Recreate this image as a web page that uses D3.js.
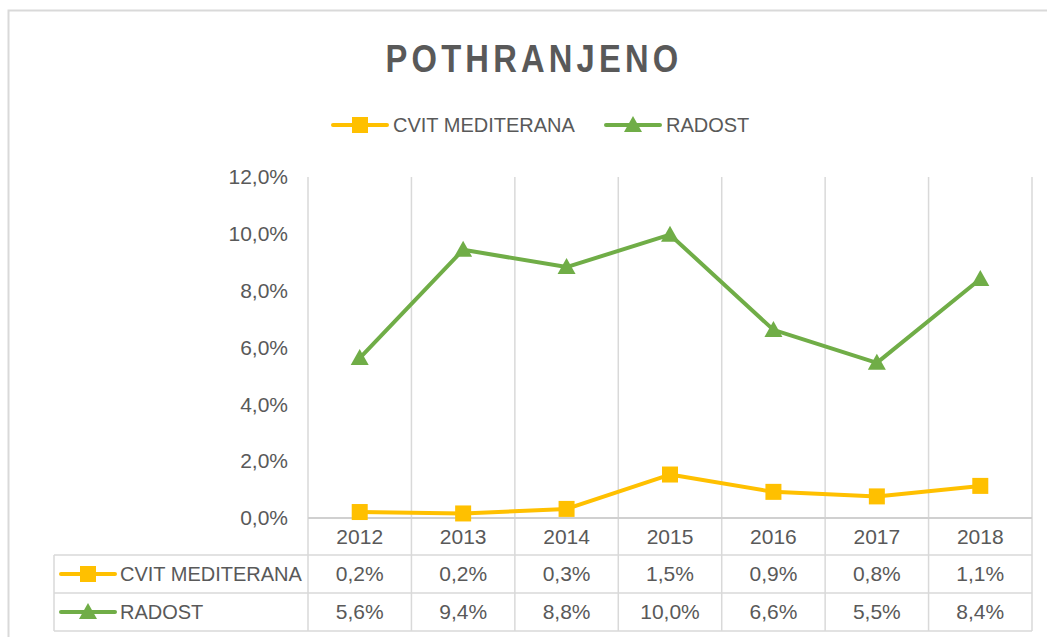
<!DOCTYPE html>
<html>
<head>
<meta charset="utf-8">
<script src="https://cdn.jsdelivr.net/npm/d3@7"></script>
<style>
  html, body { margin: 0; padding: 0; background: #fff; }
  svg { display: block; }
</style>
</head>
<body>
<div id="chart"></div>
<script>
// data
const years = ["2012", "2013", "2014", "2015", "2016", "2017", "2018"];
const cvitMediterana = [0.21, 0.16, 0.32, 1.53, 0.92, 0.76, 1.13];
const radost = [5.63, 9.44, 8.83, 9.97, 6.62, 5.46, 8.41];
const yTicks = [0, 2, 4, 6, 8, 10, 12];
const chartTitle = "POTHRANJENO";

const series = [
    { name: "CVIT MEDITERANA", values: cvitMediterana, color: "#FFC000", marker: "square" },
    { name: "RADOST", values: radost, color: "#70AD47", marker: "triangle" }
];

const W = 1047, H = 637;
const plot = { left: 308, right: 1032, top: 177, bottom: 518 };
const rowLines = [555, 593, 631];
const tableLeft = 54;
const textColor = "#595959";
const gridColor = "#D9D9D9";
const font = "'Liberation Sans', Arial, sans-serif";

const hr = d3.formatLocale({ decimal: ",", thousands: ".", grouping: [3], currency: ["", ""] });
const pct = v => hr.format(".1f")(v) + "%";

const svg = d3.select("#chart").append("svg")
    .attr("width", W)
    .attr("height", H)
    .style("font-family", font);

// outer chart border
svg.append("rect")
    .attr("x", 8.5).attr("y", 10.5)
    .attr("width", W + 20).attr("height", H + 20)
    .attr("fill", "none")
    .attr("stroke", gridColor)
    .attr("stroke-width", 2);

const x = d3.scaleBand().domain(years).range([plot.left, plot.right]);
const y = d3.scaleLinear().domain([0, 12]).range([plot.bottom, plot.top]);

// vertical gridlines (also the table columns)
const edges = years.map(d => x(d)).concat([plot.right]);
svg.append("g").selectAll("line")
    .data(edges)
    .join("line")
    .attr("x1", d => d).attr("x2", d => d)
    .attr("y1", plot.top).attr("y2", rowLines[2])
    .attr("stroke", gridColor)
    .attr("stroke-width", 1.5);

// horizontal axis line
svg.append("line")
    .attr("x1", plot.left).attr("x2", plot.right)
    .attr("y1", plot.bottom).attr("y2", plot.bottom)
    .attr("stroke", "#D0D0D0")
    .attr("stroke-width", 2);

// table rows
svg.append("g").selectAll("line")
    .data(rowLines)
    .join("line")
    .attr("x1", tableLeft).attr("x2", plot.right)
    .attr("y1", d => d).attr("y2", d => d)
    .attr("stroke", gridColor)
    .attr("stroke-width", 1.5);
svg.append("line")
    .attr("x1", tableLeft).attr("x2", tableLeft)
    .attr("y1", rowLines[0]).attr("y2", rowLines[2])
    .attr("stroke", gridColor)
    .attr("stroke-width", 1.5);

// y axis labels
const yAxis = d3.axisLeft(y).tickValues(yTicks).tickFormat(pct).tickSize(0).tickPadding(20);
svg.append("g")
    .attr("transform", `translate(${plot.left},0)`)
    .call(yAxis)
    .call(g => g.select(".domain").remove())
    .call(g => g.selectAll("text")
        .attr("fill", textColor)
        .style("font-size", "21px")
        .style("font-family", font));

// year labels
svg.append("g").selectAll("text")
    .data(years)
    .join("text")
    .attr("x", d => x(d) + x.bandwidth() / 2)
    .attr("y", (plot.bottom + rowLines[0]) / 2)
    .attr("dy", "0.35em")
    .attr("text-anchor", "middle")
    .attr("fill", textColor)
    .style("font-size", "21px")
    .text(d => d);

function drawMarker(sel, s, cx, cy) {
    if (s.marker === "square") {
        sel.append("rect")
            .attr("x", cx - 8).attr("y", cy - 8)
            .attr("width", 16).attr("height", 16)
            .attr("fill", s.color);
    } else {
        sel.append("path")
            .attr("d", `M${cx},${cy - 9}L${cx + 9},${cy + 7}L${cx - 9},${cy + 7}Z`)
            .attr("fill", s.color);
    }
}

// lines and markers
const line = d3.line()
    .x((d, i) => x(years[i]) + x.bandwidth() / 2)
    .y(d => y(d));

series.forEach(s => {
    const g = svg.append("g");
    g.append("path")
        .datum(s.values)
        .attr("d", line)
        .attr("fill", "none")
        .attr("stroke", s.color)
        .attr("stroke-width", 4)
        .attr("stroke-linejoin", "round");
    s.values.forEach((v, i) => drawMarker(g, s, x(years[i]) + x.bandwidth() / 2, y(v)));
});

// legend key helper
function legendKey(s, x0, cy) {
    const g = svg.append("g");
    g.append("line")
        .attr("x1", x0).attr("x2", x0 + 54)
        .attr("y1", cy).attr("y2", cy)
        .attr("stroke", s.color)
        .attr("stroke-width", 4)
        .attr("stroke-linecap", "round");
    drawMarker(g, s, x0 + 27, cy);
}

// top legend
const legendX = [333, 606];
series.forEach((s, i) => {
    legendKey(s, legendX[i], 125);
    svg.append("text")
        .attr("x", legendX[i] + 60)
        .attr("y", 125)
        .attr("dy", "0.35em")
        .attr("fill", textColor)
        .style("font-size", "20px")
        .text(s.name);
});

// data table rows
series.forEach((s, i) => {
    const cy = (rowLines[i] + rowLines[i + 1]) / 2;
    legendKey(s, 61, cy);
    svg.append("text")
        .attr("x", 120)
        .attr("y", cy)
        .attr("dy", "0.35em")
        .attr("fill", textColor)
        .style("font-size", "20px")
        .text(s.name);
    svg.append("g").selectAll("text")
        .data(s.values)
        .join("text")
        .attr("x", (d, j) => x(years[j]) + x.bandwidth() / 2)
        .attr("y", cy)
        .attr("dy", "0.35em")
        .attr("text-anchor", "middle")
        .attr("fill", textColor)
        .style("font-size", "21px")
        .text(d => pct(d));
});

// title: narrow bold face with wide tracking, squeezed to the reference width
svg.append("text")
    .attr("x", 534)
    .attr("y", 72)
    .attr("text-anchor", "middle")
    .attr("fill", textColor)
    .attr("textLength", 297)
    .attr("lengthAdjust", "spacingAndGlyphs")
    .style("font-family", "'Liberation Sans Narrow', 'Liberation Sans', sans-serif")
    .style("font-size", "39px")
    .style("font-weight", "bold")
    .style("letter-spacing", "5px")
    .text(chartTitle);
</script>
</body>
</html>
